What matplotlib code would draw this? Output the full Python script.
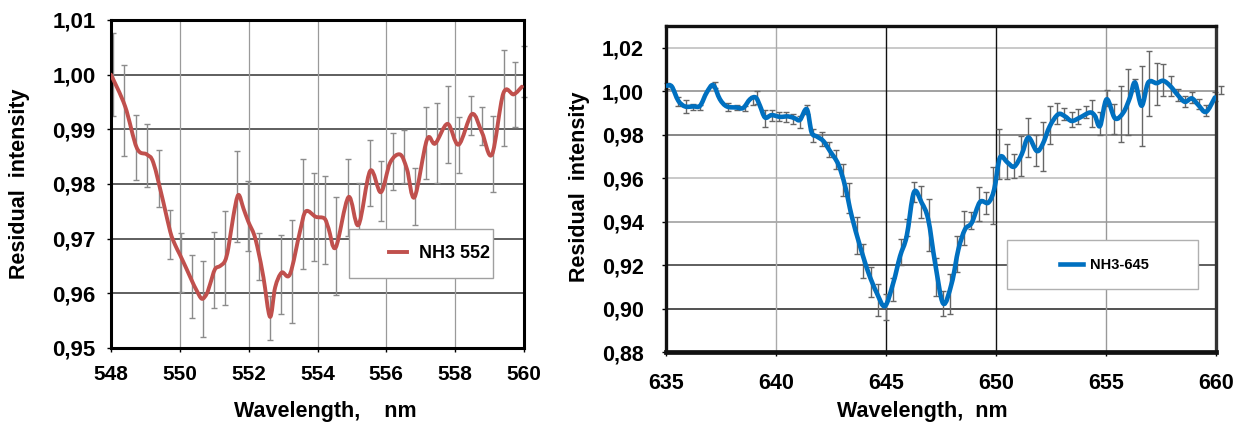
import numpy as np
import matplotlib
matplotlib.use("Agg")
import matplotlib.pyplot as plt
from matplotlib.patches import Rectangle, PathPatch
from matplotlib.path import Path
from matplotlib.lines import Line2D
from matplotlib.ticker import FuncFormatter

plt.rcParams['font.family'] = ['Liberation Sans', 'DejaVu Sans']
plt.rcParams['font.weight'] = 'bold'

# ---------------------------------------------------------------- data
# NH3 552 band: smoothed residual intensity
wl_552 = [548.00, 548.41, 548.75, 549.04, 549.23, 549.52, 549.72, 549.86, 550.00,
          550.20, 550.35, 550.49, 550.64, 550.78, 550.88, 551.02, 551.17, 551.31,
          551.41, 551.56, 551.70, 551.85, 551.99, 552.16, 552.28, 552.43, 552.62,
          552.77, 552.96, 553.20, 553.49, 553.66, 553.95, 554.20, 554.32, 554.53,
          554.90, 555.19, 555.53, 555.84, 556.11, 556.40, 556.60, 556.82, 557.18,
          557.42, 557.78, 558.10, 558.49, 558.78, 559.07, 559.40, 559.70, 559.94]
ri_552 = [1.0000, 0.9942, 0.9866, 0.9854, 0.9839, 0.9767, 0.9713, 0.9689, 0.9671,
          0.9644, 0.9623, 0.9605, 0.9590, 0.9599, 0.9617, 0.9644, 0.9650, 0.9659,
          0.9683, 0.9743, 0.9780, 0.9755, 0.9731, 0.9707, 0.9677, 0.9629, 0.9557,
          0.9611, 0.9638, 0.9635, 0.9713, 0.9750, 0.9740, 0.9737, 0.9719, 0.9684,
          0.9776, 0.9725, 0.9824, 0.9785, 0.9839, 0.9854, 0.9827, 0.9776, 0.9881,
          0.9874, 0.9910, 0.9872, 0.9928, 0.9894, 0.9854, 0.9966, 0.9964, 0.9978]

# NH3 552 error bars: position, centre, half-width
eb_x_552 = [548.07, 548.39, 548.73, 549.06, 549.39, 549.70, 550.03, 550.35, 550.67,
            551.00, 551.32, 551.65, 551.97, 552.29, 552.62, 552.94, 553.26, 553.59,
            553.91, 554.23, 554.54, 554.88, 555.20, 555.53, 555.85, 556.18, 556.50,
            556.82, 557.16, 557.47, 557.80, 558.12, 558.45, 558.78, 559.09, 559.42,
            559.74, 560.00]
eb_y_552 = [1.0000, 0.9934, 0.9867, 0.9852, 0.9810, 0.9708, 0.9656, 0.9613, 0.9590,
            0.9643, 0.9665, 0.9777, 0.9741, 0.9667, 0.9555, 0.9635, 0.9640, 0.9745,
            0.9740, 0.9734, 0.9687, 0.9775, 0.9727, 0.9820, 0.9787, 0.9841, 0.9850,
            0.9777, 0.9875, 0.9875, 0.9909, 0.9872, 0.9925, 0.9906, 0.9855, 0.9957,
            0.9964, 1.0006]
eb_e_552 = [0.0076, 0.0083, 0.0060, 0.0058, 0.0052, 0.0045, 0.0054, 0.0058, 0.0070,
            0.0070, 0.0086, 0.0083, 0.0064, 0.0043, 0.0040, 0.0072, 0.0095, 0.0100,
            0.0081, 0.0080, 0.0090, 0.0070, 0.0075, 0.0060, 0.0055, 0.0052, 0.0048,
            0.0052, 0.0065, 0.0074, 0.0071, 0.0051, 0.0036, 0.0035, 0.0070, 0.0088,
            0.0060, 0.0047]

# NH3 645 band
wl_645 = [635.03, 635.26, 635.56, 635.86, 636.24, 636.55, 636.85, 637.15, 637.45,
          637.76, 638.21, 638.51, 638.82, 639.08, 639.27, 639.50, 639.80, 640.18,
          640.56, 640.86, 641.09, 641.40, 641.62, 641.85, 642.15, 642.45, 642.83,
          643.14, 643.44, 643.82, 644.20, 644.58, 644.95, 645.33, 645.64, 645.94,
          646.27, 646.62, 646.92, 647.23, 647.60, 647.99, 648.29, 648.59, 648.90,
          649.27, 649.65, 649.92, 650.18, 650.52, 650.83, 651.17, 651.47, 651.85,
          652.12, 652.45, 652.83, 653.14, 653.44, 653.82, 654.27, 654.50, 654.73,
          655.03, 655.41, 655.79, 656.09, 656.32, 656.62, 656.92, 657.30, 657.60,
          657.91, 658.29, 658.59, 658.90, 659.20, 659.55, 659.95]
ri_645 = [1.0025, 1.0022, 0.9956, 0.9930, 0.9930, 0.9933, 0.9994, 1.0028, 0.9963,
          0.9930, 0.9925, 0.9923, 0.9963, 0.9971, 0.9933, 0.9879, 0.9890, 0.9882,
          0.9884, 0.9875, 0.9868, 0.9917, 0.9810, 0.9792, 0.9771, 0.9725, 0.9664,
          0.9564, 0.9426, 0.9287, 0.9165, 0.9072, 0.9011, 0.9118, 0.9241, 0.9333,
          0.9535, 0.9487, 0.9410, 0.9211, 0.9023, 0.9118, 0.9272, 0.9364, 0.9395,
          0.9490, 0.9487, 0.9549, 0.9695, 0.9672, 0.9653, 0.9710, 0.9787, 0.9725,
          0.9756, 0.9840, 0.9894, 0.9884, 0.9863, 0.9879, 0.9902, 0.9886, 0.9840,
          0.9963, 0.9875, 0.9902, 0.9971, 1.0040, 0.9933, 1.0040, 1.0037, 1.0048,
          1.0025, 0.9979, 0.9951, 0.9967, 0.9936, 0.9905, 0.9971]

eb_x_645 = [635.03, 635.56, 635.91, 636.24, 636.55, 637.23, 637.83, 638.21, 638.59,
            638.97, 639.12, 639.50, 639.80, 640.15, 640.45, 640.76, 641.09, 641.42,
            641.70, 642.08, 642.42, 642.71, 643.06, 643.32, 643.70, 643.97, 644.30,
            644.65, 645.00, 645.33, 645.67, 645.97, 646.29, 646.59, 646.95, 647.26,
            647.58, 647.91, 648.24, 648.56, 648.86, 649.23, 649.55, 649.88, 650.14,
            650.48, 650.82, 651.12, 651.47, 651.82, 652.12, 652.45, 652.76, 653.09,
            653.44, 653.74, 654.08, 654.38, 654.73, 655.03, 655.36, 655.68, 656.02,
            656.32, 656.65, 656.97, 657.30, 657.61, 657.94, 658.29, 658.59, 658.92,
            659.24, 659.55, 659.95, 660.21]
eb_y_645 = [1.0023, 0.9951, 0.9929, 0.9928, 0.9925, 1.0028, 0.9928, 0.9925, 0.9921,
            0.9957, 0.9971, 0.9875, 0.9888, 0.9883, 0.9881, 0.9871, 0.9857, 0.9915,
            0.9796, 0.9778, 0.9731, 0.9686, 0.9592, 0.9510, 0.9335, 0.9218, 0.9123,
            0.9041, 0.9007, 0.9088, 0.9260, 0.9372, 0.9536, 0.9491, 0.9385, 0.9145,
            0.9022, 0.9068, 0.9250, 0.9370, 0.9406, 0.9482, 0.9485, 0.9520, 0.9713,
            0.9677, 0.9656, 0.9701, 0.9787, 0.9727, 0.9745, 0.9843, 0.9897, 0.9897,
            0.9869, 0.9883, 0.9904, 0.9897, 0.9850, 0.9968, 0.9871, 0.9894, 0.9950,
            1.0030, 0.9933, 1.0035, 1.0033, 1.0052, 1.0025, 0.9984, 0.9954, 0.9970,
            0.9940, 0.9911, 0.9976, 1.0004]
eb_e_645 = [0.0014, 0.0021, 0.0030, 0.0013, 0.0011, 0.0015, 0.0018, 0.0011, 0.0012,
            0.0022, 0.0031, 0.0038, 0.0025, 0.0019, 0.0022, 0.0023, 0.0027, 0.0021,
            0.0029, 0.0032, 0.0033, 0.0045, 0.0075, 0.0069, 0.0086, 0.0077, 0.0069,
            0.0074, 0.0061, 0.0054, 0.0058, 0.0038, 0.0048, 0.0073, 0.0121, 0.0088,
            0.0058, 0.0091, 0.0083, 0.0079, 0.0038, 0.0079, 0.0051, 0.0129, 0.0115,
            0.0082, 0.0054, 0.0091, 0.0088, 0.0071, 0.0111, 0.0087, 0.0048, 0.0028,
            0.0036, 0.0035, 0.0029, 0.0064, 0.0052, 0.0038, 0.0069, 0.0128, 0.0152,
            0.0028, 0.0184, 0.0151, 0.0097, 0.0073, 0.0046, 0.0028, 0.0025, 0.0025,
            0.0023, 0.0025, 0.0021, 0.0018]

xt_552 = [548, 550, 552, 554, 556, 558, 560]
yt_552 = [0.95, 0.96, 0.97, 0.98, 0.99, 1.00, 1.01]
xt_645 = [635, 640, 645, 650, 655, 660]
yt_645 = [0.88, 0.90, 0.92, 0.94, 0.96, 0.98, 1.00, 1.02]

# ---------------------------------------------------------------- figure
W, H = 1236, 432
fig = plt.figure(figsize=(W / 100, H / 100), dpi=100)


def px_axes(x0, y0, x1, y1):
    """axes from pixel box (left, top, right, bottom)"""
    return fig.add_axes([x0 / W, 1 - y1 / H, (x1 - x0) / W, (y1 - y0) / H])


def smooth_line(ax, x, y, **kw):
    """Excel-style smoothed line: Bezier segments through the data points"""
    p = np.column_stack([x, y])
    pp = np.vstack([p[0], p, p[-1]])
    verts, codes = [p[0]], [Path.MOVETO]
    for i in range(len(p) - 1):
        c1 = pp[i + 1] + (pp[i + 2] - pp[i]) / 6.0
        c2 = pp[i + 2] - (pp[i + 3] - pp[i + 1]) / 6.0
        verts += [c1, c2, pp[i + 2]]
        codes += [Path.CURVE4] * 3
    patch = PathPatch(Path(verts, codes), facecolor='none', capstyle='round',
                      joinstyle='round', **kw)
    ax.add_patch(patch)
    return patch


comma = FuncFormatter(lambda v, p: f"{v:.2f}".replace('.', ','))

# ---------- left panel
ax1 = px_axes(111, 20, 524, 348)
ax1.set_xlim(548, 560)
ax1.set_ylim(0.95, 1.0092)
for y in yt_552:
    ax1.axhline(y, color='#333333', lw=1.1, zorder=0.5)
for x in xt_552:
    ax1.axvline(x, color='#9a9a9a', lw=0.9, zorder=0.5)
ax1.errorbar(eb_x_552, eb_y_552, yerr=eb_e_552, fmt='none', ecolor='#8c8c8c',
             elinewidth=1.0, capsize=2.2, capthick=1.0, zorder=1, clip_on=False)
smooth_line(ax1, wl_552, ri_552, edgecolor='#c0504d', lw=2.8, zorder=3)
ax1.set_xticks(xt_552)
ax1.set_yticks(yt_552)
ax1.yaxis.set_major_formatter(comma)
ax1.tick_params(axis='y', labelsize=16, length=3, width=1, pad=8)
ax1.tick_params(axis='x', labelsize=15, length=3, width=1, pad=9)
for s in ax1.spines.values():
    s.set_linewidth(2.2)
    s.set_color('black')
ax1.set_ylabel('Residual  intensity', fontsize=15.5, fontweight='bold')
ax1.yaxis.set_label_coords((30 - 111) / 413, 0.5)
fig.text(325 / W, 1 - 412 / H, 'Wavelength,    nm', fontsize=15.5, fontweight='bold',
         ha='center', va='center')

ax1.add_patch(Rectangle((0.576, 0.213), 0.349, 0.150, transform=ax1.transAxes,
                        facecolor='white', edgecolor='#a0a0a0', lw=1.0, zorder=4))
h1 = Line2D([], [], color='#c0504d', lw=2.8)
leg1 = ax1.legend([h1], ['NH3 552'], loc='center left', bbox_to_anchor=(0.673, 0.288),
                  frameon=False, borderpad=0, borderaxespad=0, handlelength=1.0,
                  handletextpad=0.65, prop={'size': 13, 'weight': 'bold'})
leg1.set_zorder(5)

# ---------- right panel
ax2 = px_axes(666, 26, 1216, 352)
ax2.set_xlim(635, 660)
ax2.set_ylim(0.88, 1.030)
hcol = {0.88: '#222222', 0.90: '#222222', 0.92: '#333333', 0.94: '#999999',
        0.96: '#bbbbbb', 0.98: '#666666', 1.00: '#888888', 1.02: '#bbbbbb'}
vcol = {635: '#999999', 640: '#aaaaaa', 645: '#111111', 650: '#111111',
        655: '#999999', 660: '#999999'}
for y in yt_645:
    ax2.axhline(y, color=hcol[y], lw=1.1, zorder=0.5)
for x in xt_645:
    ax2.axvline(x, color=vcol[x], lw=1.0, zorder=0.5)
ax2.errorbar(eb_x_645, eb_y_645, yerr=eb_e_645, fmt='none', ecolor='#666666',
             elinewidth=1.0, capsize=2.2, capthick=1.0, zorder=1, clip_on=False)
smooth_line(ax2, wl_645, ri_645, edgecolor='#0070c0', lw=3.3, zorder=3)
ax2.set_xticks(xt_645)
ax2.set_yticks(yt_645)
ax2.yaxis.set_major_formatter(comma)
ax2.tick_params(labelsize=15.5, length=3, width=1)
ax2.tick_params(axis='y', pad=13)
ax2.tick_params(axis='x', pad=12)
for name, s in ax2.spines.items():
    s.set_linewidth(2.4)
    s.set_color('#111111')
ax2.spines['bottom'].set_linewidth(3.4)
ax2.spines['right'].set_color('#333333')
ax2.set_ylabel('Residual  intensity', fontsize=15.5, fontweight='bold')
ax2.yaxis.set_label_coords((590 - 666) / 550, 0.506)
fig.text(922 / W, 1 - 411 / H, 'Wavelength,  nm', fontsize=15.5, fontweight='bold',
         ha='center', va='center')

ax2.add_patch(Rectangle((0.620, 0.193), 0.347, 0.151, transform=ax2.transAxes,
                        facecolor='white', edgecolor='#b0b0b0', lw=1.0, zorder=4))
h2 = Line2D([], [], color='#0070c0', lw=3.3)
leg2 = ax2.legend([h2], ['NH3-645'], loc='center left', bbox_to_anchor=(0.716, 0.268),
                  frameon=False, borderpad=0, borderaxespad=0, handlelength=1.6,
                  handletextpad=0.5, prop={'size': 10.5, 'weight': 'bold'})
leg2.set_zorder(5)

fig.savefig('out.png', dpi=100)
